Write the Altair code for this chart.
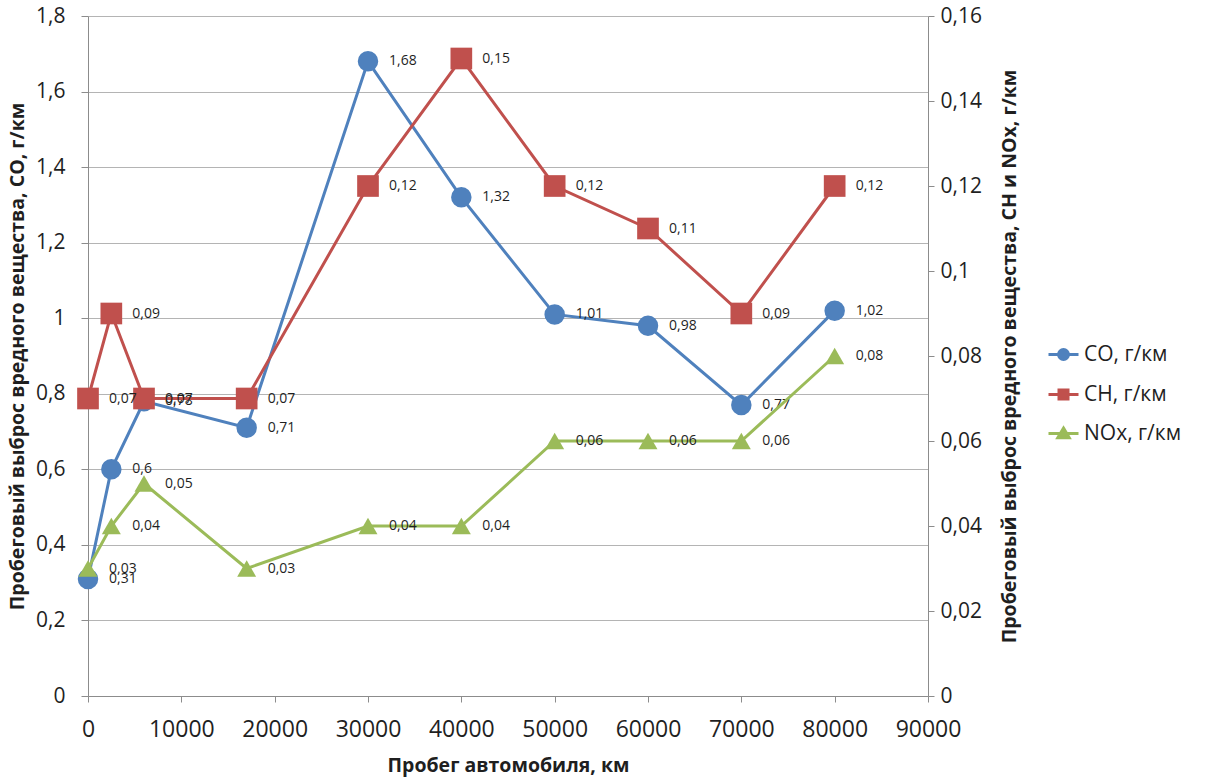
import altair as alt
import pandas as pd

# Vehicle mileage, km
mileage = [0, 2500, 6000, 17000, 30000, 40000, 50000, 60000, 70000, 80000]
# Emission per km for each pollutant
co = [0.31, 0.6, 0.78, 0.71, 1.68, 1.32, 1.01, 0.98, 0.77, 1.02]
ch = [0.07, 0.09, 0.07, 0.07, 0.12, 0.15, 0.12, 0.11, 0.09, 0.12]
nox = [0.03, 0.04, 0.05, 0.03, 0.04, 0.04, 0.06, 0.06, 0.06, 0.08]

series = ["CO, г/км", "CH, г/км", "NOx, г/км"]
colors = ["#4f81bd", "#c0504d", "#9bbb59"]

x_ticks = [0, 10000, 20000, 30000, 40000, 50000, 60000, 70000, 80000, 90000]
left_ticks = [0, 0.2, 0.4, 0.6, 0.8, 1, 1.2, 1.4, 1.6, 1.8]
right_ticks = [0, 0.02, 0.04, 0.06, 0.08, 0.1, 0.12, 0.14, 0.16]

df = pd.DataFrame({"km": mileage, "co": co, "ch": ch, "nox": nox})
legend_df = pd.DataFrame({"series": series})

FONT = "Open Sans"
TEXT = "#1f1f1f"
AXIS_GRAY = "#8c8c8c"

comma = "replace(format(datum.value, '~g'), '.', ',')"

x_axis = alt.Axis(
    values=x_ticks, format="d", grid=False, labelOverlap=False, labelFlush=False,
    labelFontSize=23, labelPadding=16, tickSize=6,
    title="Пробег автомобиля, км", titleFontSize=19.5, titleFontWeight="bold",
    titlePadding=15,
)
x_enc = alt.X("km:Q", scale=alt.Scale(domain=[0, 90000], nice=False), axis=x_axis)

left_axis = alt.Axis(
    values=left_ticks, labelExpr=comma, grid=True, labelOverlap=False, labelFlush=False,
    labelFontSize=21, labelPadding=16, tickSize=7,
    title="Пробеговый выброс вредного вещества, CO, г/км",
    titleFontSize=19.5, titleFontWeight="bold", titlePadding=8,
)
right_axis = alt.Axis(
    orient="right", values=right_ticks, labelExpr=comma, grid=False,
    labelOverlap=False, labelFlush=False,
    labelFontSize=21, labelPadding=6, tickSize=6,
    title="Пробеговый выброс вредного вещества, CH и NOx, г/км",
    titleFontSize=19.5, titleFontWeight="bold", titlePadding=19,
    titleAngle=270, titleBaseline="top",
)

left_scale = alt.Scale(domain=[0, 1.8], nice=False)
right_scale = alt.Scale(domain=[0, 0.16], nice=False)


def series_layers(field, color, shape, size, scale, axis):
    base = alt.Chart(df).transform_calculate(
        lbl=f"replace(toString(datum.{field}), '.', ',')"
    )
    y = alt.Y(f"{field}:Q", scale=scale, axis=axis)
    line = base.mark_line(color=color, strokeWidth=3).encode(x=x_enc, y=y)
    pts = base.mark_point(
        filled=True, shape=shape, size=size, color=color, opacity=1
    ).encode(x=x_enc, y=y)
    txt = base.mark_text(
        align="left", baseline="middle", dx=21, fontSize=14, font=FONT, color=TEXT
    ).encode(x=x_enc, y=y, text="lbl:N")
    return [line, pts, txt]


co_layer = alt.layer(*series_layers("co", colors[0], "circle", 420, left_scale, left_axis))
right_layer = alt.layer(
    *series_layers("ch", colors[1], "square", 470, right_scale, right_axis),
    *series_layers("nox", colors[2], "triangle-up", 360, right_scale, right_axis),
)

# Legend symbols: a short line with the series marker on it
legend_shapes = [
    "M-1,0H1M-0.33,0A0.33,0.33 0 1,0 0.33,0A0.33,0.33 0 1,0 -0.33,0Z",
    "M-1,0H1M-0.3,-0.3H0.3V0.3H-0.3Z",
    "M-1,0H1M0,-0.36L0.38,0.28H-0.38Z",
]
legend = alt.Legend(
    title=None, orient="none", legendX=959, legendY=322,
    labelFontSize=21, labelFont=FONT, labelColor=TEXT, labelOffset=4,
    symbolSize=900, symbolStrokeWidth=3, rowPadding=12,
)
legend_layer = alt.Chart(legend_df).mark_point(
    filled=True, clip=True, strokeWidth=3, opacity=1
).encode(
    x=alt.value(-500),
    y=alt.value(-500),
    fill=alt.Fill("series:N", scale=alt.Scale(domain=series, range=colors), legend=legend),
    stroke=alt.Stroke("series:N", scale=alt.Scale(domain=series, range=colors), legend=legend),
    shape=alt.Shape("series:N", scale=alt.Scale(domain=series, range=legend_shapes), legend=legend),
)

chart = (
    alt.layer(co_layer, right_layer, legend_layer)
    .resolve_scale(y="independent")
    .properties(
        width=840, height=680,
        autosize=alt.AutoSizeParams(type="none"),
        padding={"left": 88, "top": 16, "right": 278, "bottom": 82},
    )
    .configure_view(stroke=None)
    .configure_axis(
        labelFont=FONT, titleFont=FONT, labelColor=TEXT, titleColor=TEXT,
        domainColor=AXIS_GRAY, tickColor=AXIS_GRAY, gridColor="#b4b4b4",
        domainWidth=1, tickWidth=1, gridWidth=1,
    )
)

chart.save("out.html", embed_options={"renderer": "svg", "actions": False})
